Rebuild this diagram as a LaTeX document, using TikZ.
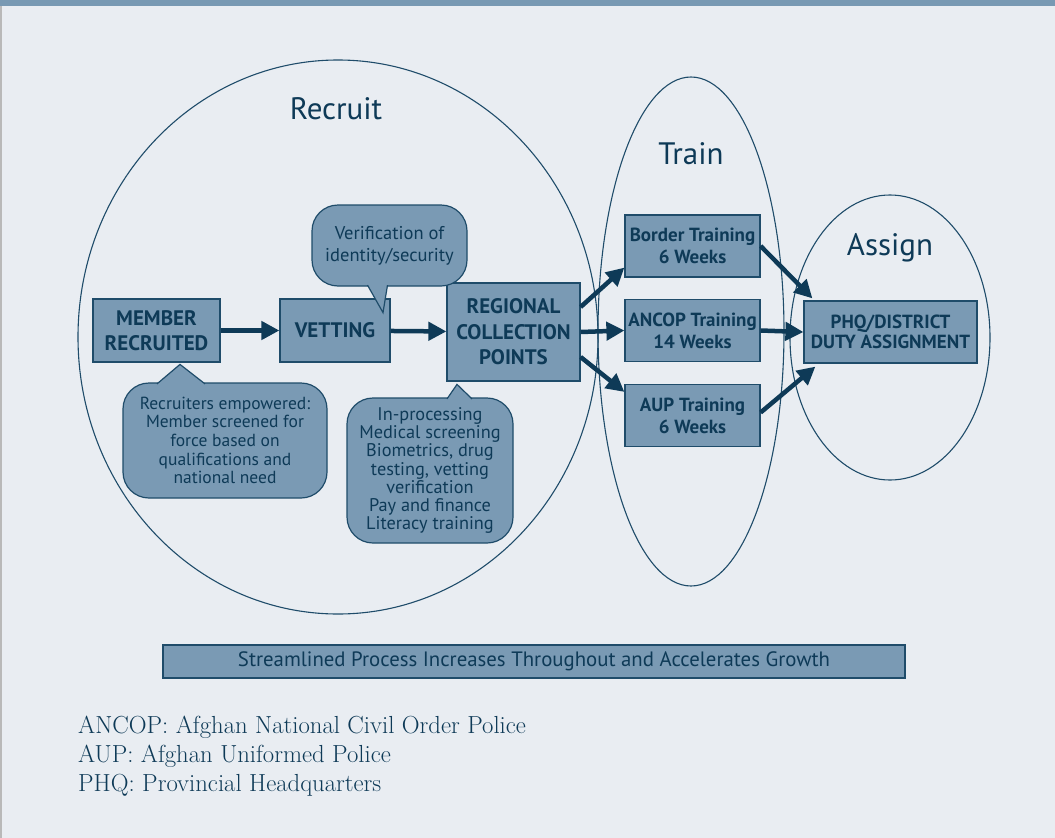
\documentclass[tikz,border=0pt]{standalone}
\usepackage{fontspec}
\setsansfont{PT Sans}
\usetikzlibrary{arrows.meta}
\definecolor{bgc}{HTML}{E9EDF2}
\definecolor{boxc}{HTML}{7A9AB4}
\definecolor{edgec}{HTML}{1F4C6A}
\definecolor{inkc}{HTML}{0E3A57}
\definecolor{bandc}{HTML}{7899B3}
\begin{document}
\begin{tikzpicture}[x=1pt,y=-1pt,
 box/.style={draw=edgec,line width=1.2pt,fill=boxc,text=inkc,align=center,inner sep=0pt,
  font=\sffamily\bfseries\fontsize{21}{25.5}\selectfont},
 trainbox/.style={box,minimum width=135,minimum height=62,font=\sffamily\bfseries\fontsize{19}{22}\selectfont},
 note/.style={draw=edgec,line width=1.2pt,fill=boxc,text=inkc,rounded corners=26pt,align=center,inner sep=0pt,
  font=\sffamily\fontsize{17.5}{18.7}\selectfont},
 pointer/.style={draw=edgec,line width=1.2pt,fill=boxc,line join=miter},
 ring/.style={draw=edgec,line width=1.1pt},
 flow/.style={draw=inkc,line width=4.5pt,-{Triangle[length=18pt,width=18pt]}},
 title/.style={text=inkc,anchor=base,font=\sffamily\fontsize{31}{34}\selectfont},
 legend/.style={text=inkc,anchor=base west,inner sep=0pt,font=\fontsize{24.7}{29}\selectfont}]
\useasboundingbox (0,0) rectangle (1055,838);
\fill[bgc] (0,0) rectangle (1055,838);
\fill[bandc] (0,0) rectangle (1055,6);
\draw[gray!55,line width=1.5pt] (1,6) -- (1,838);
% the three stages
\draw[ring] (338,337) ellipse [x radius=260,y radius=277];
\draw[ring] (691,331.5) ellipse [x radius=93,y radius=254.5];
\draw[ring] (890,337.5) ellipse [x radius=100,y radius=142.5];
\node[title] (trec) at (336,119) {Recruit};
\node[title] (ttr) at (691,164) {Train};
\node[title] (tas) at (890,255) {Assign};
% process boxes
\node[box,minimum width=127,minimum height=63] (mr) at (156.5,330.5) {MEMBER\\RECRUITED};
\node[box,minimum width=110,minimum height=63] (vet) at (335,330.5) {VETTING};
\node[box,minimum width=133,minimum height=98] (rcp) at (513.5,332) {REGIONAL\\COLLECTION\\POINTS};
\node[trainbox] (bt) at (692.5,246) {Border Training\\6 Weeks};
\node[trainbox] (at) at (692.5,330.5) {ANCOP Training\\14 Weeks};
\node[trainbox] (aupt) at (692.5,415.5) {AUP Training\\6 Weeks};
\node[box,minimum width=173,minimum height=62,font=\sffamily\bfseries\fontsize{19}{20.5}\selectfont] (phq) at (890.5,332) {PHQ/DISTRICT\\DUTY ASSIGNMENT};
% arrows
\draw[flow] (mr) -- (vet);
\draw[flow] (vet) -- (rcp);
\draw[flow] ([yshift=25pt]rcp.east) -- ([yshift=10pt]bt.south west);
\draw[flow] (rcp.east) -- (at.west);
\draw[flow] ([yshift=-25pt]rcp.east) -- ([yshift=-8pt]aupt.north west);
\draw[flow] (bt.east) -- ([xshift=9pt,yshift=2pt]phq.north west);
\draw[flow] (at.east) -- (phq.west);
\draw[flow] ([yshift=3pt]aupt.east) -- ([xshift=12pt,yshift=-3pt]phq.south west);
% callouts
\node[note,minimum width=204,minimum height=115] (rn) at (225,440.5)
 {Recruiters empowered:\\Member screened for\\force based on\\qualifications and\\national need};
\path[pointer] ([xshift=-68pt,yshift=-1.5pt]rn.north) -- ([xshift=-45pt,yshift=18pt]rn.north) -- ([xshift=-20pt,yshift=-1.5pt]rn.north);
\node[note,minimum width=155,minimum height=81,font=\sffamily\fontsize{18.5}{22}\selectfont] (vn) at (389.5,245.5)
 {Verification of\\identity/security};
\path[pointer] ([xshift=-22pt,yshift=1.5pt]vn.south) -- ([xshift=-6.5pt,yshift=-26pt]vn.south) -- ([xshift=-2pt,yshift=1.5pt]vn.south);
\node[note,minimum width=166,minimum height=145,font=\sffamily\fontsize{18.3}{18.3}\selectfont] (pn) at (430,470.5)
 {In-processing\\Medical screening\\Biometrics, drug\\testing, vetting\\verification\\Pay and finance\\Literacy training};
\path[pointer] ([xshift=17pt,yshift=-1.5pt]pn.north) -- ([xshift=27pt,yshift=13pt]pn.north) -- ([xshift=42pt,yshift=-1.5pt]pn.north);
% banner and legend
\node[box,minimum width=742,minimum height=33,font=\sffamily\fontsize{20.8}{22}\selectfont] (ban) at (534,661.5)
 {Streamlined Process Increases Throughout and Accelerates Growth};
\foreach \t [count=\i from 0] in {ANCOP: Afghan National Civil Order Police,AUP: Afghan Uniformed Police,PHQ: Provincial Headquarters}
 \node[legend] (lg\i) at (78,{733+29*\i}) {\t};
\end{tikzpicture}
\end{document}
